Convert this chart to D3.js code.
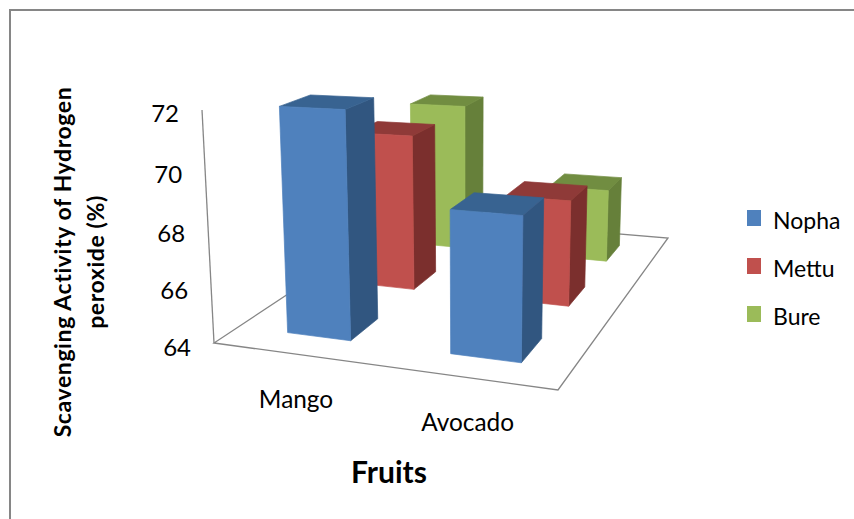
<!DOCTYPE html>
<html>
<head>
<meta charset="utf-8">
<script src="https://cdn.jsdelivr.net/npm/d3@7"></script>
<style>
  html, body { margin: 0; padding: 0; background: #fff; }
  svg { display: block; }
  text { font-family: Lato, "Open Sans", sans-serif; fill: #000; }
</style>
</head>
<body>
<div id="chart"></div>
<script>
const categories = ["Mango", "Avocado"];
const seriesNames = ["Nopha", "Mettu", "Bure"];
const nopha = [71.9, 68.85];
const mettu = [69.9, 67.9];
const bure = [70, 66.9];
const tickValues = [64, 66, 68, 70, 72];

const seriesValues = [nopha, mettu, bure];
const faceColors = [
  { front: "#4f81bd", side: "#315680", top: "#386391" },
  { front: "#c0504d", side: "#7b2f2d", top: "#8f3a38" },
  { front: "#9bbb59", side: "#66803a", top: "#718d41" }
];

const width = 854, height = 519;

const svg = d3.select("#chart").append("svg")
  .attr("width", width)
  .attr("height", height);

// chart border runs off the right and bottom of the crop
svg.append("rect")
  .attr("x", 10).attr("y", 10)
  .attr("width", 860).attr("height", 520)
  .attr("fill", "#fff")
  .attr("stroke", "#868686")
  .attr("stroke-width", 2);

// floor corners on screen, used to build the perspective
const floor = { fl: [214, 343], fr: [558, 390], br: [668, 238], bl: [406, 216] };
const vanish = [469, 5300];
const lift = -0.0449;

function floorMatrix(q) {
  const dx1 = q.fr[0] - q.br[0], dx2 = q.bl[0] - q.br[0];
  const dy1 = q.fr[1] - q.br[1], dy2 = q.bl[1] - q.br[1];
  const sx = q.fl[0] - q.fr[0] + q.br[0] - q.bl[0];
  const sy = q.fl[1] - q.fr[1] + q.br[1] - q.bl[1];
  const det = dx1 * dy2 - dx2 * dy1;
  const g = (sx * dy2 - dx2 * sy) / det;
  const h = (dx1 * sy - sx * dy1) / det;
  return {
    a: q.fr[0] - q.fl[0] + g * q.fr[0], b: q.bl[0] - q.fl[0] + h * q.bl[0], c: q.fl[0],
    d: q.fr[1] - q.fl[1] + g * q.fr[1], e: q.bl[1] - q.fl[1] + h * q.bl[1], f: q.fl[1],
    g: g, h: h
  };
}
const m = floorMatrix(floor);

// u: along categories, v: into the page, t: up the value axis
function project(u, v, t) {
  const q = lift * t;
  const w = m.g * u + m.h * v + 1 + q;
  return [
    (m.a * u + m.b * v + m.c + q * vanish[0]) / w,
    (m.d * u + m.e * v + m.f + q * vanish[1]) / w
  ];
}

const yScale = d3.scaleLinear().domain([64, 72]).range([0, 1]);
const uBand = d3.scaleBand().domain(categories).range([0.01, 1.01]).paddingInner(0.6).paddingOuter(0.3);
const uAxis = d3.scaleBand().domain(categories).range([0, 1]);
const vBand = d3.scaleBand().domain(seriesNames).range([0, 1]).paddingInner(0.6).paddingOuter(0.3);

const lineColor = "#868686";
const toPath = pts => "M" + pts.map(p => p[0].toFixed(2) + "," + p[1].toFixed(2)).join("L");

const plot = svg.append("g");

plot.append("path")
  .attr("d", toPath([[0, 0], [1, 0], [1, 1], [0, 1]].map(c => project(c[0], c[1], 0))) + "Z")
  .attr("fill", "none")
  .attr("stroke", lineColor)
  .attr("stroke-width", 1.3);

plot.append("path")
  .attr("d", toPath([project(0, 0, 0), project(0, 0, 1)]))
  .attr("fill", "none")
  .attr("stroke", lineColor)
  .attr("stroke-width", 1.3);

// bars, back row first so the front row covers it
d3.range(seriesNames.length - 1, -1, -1).forEach(s => {
  categories.forEach((cat, c) => {
    const u0 = uBand(cat), u1 = u0 + uBand.bandwidth();
    const v0 = vBand(seriesNames[s]), v1 = v0 + vBand.bandwidth();
    const t = yScale(seriesValues[s][c]);
    const col = faceColors[s];
    const bar = plot.append("g").attr("stroke-width", 0.7).attr("stroke-linejoin", "round");

    // thin same-colour stroke closes the antialiasing seam between faces
    bar.append("path")
      .attr("d", toPath([project(u1, v0, 0), project(u1, v1, 0), project(u1, v1, t), project(u1, v0, t)]) + "Z")
      .attr("fill", col.side)
      .attr("stroke", col.side);
    bar.append("path")
      .attr("d", toPath([project(u0, v0, t), project(u1, v0, t), project(u1, v1, t), project(u0, v1, t)]) + "Z")
      .attr("fill", col.top)
      .attr("stroke", col.top);
    bar.append("path")
      .attr("d", toPath([project(u0, v0, 0), project(u1, v0, 0), project(u1, v0, t), project(u0, v0, t)]) + "Z")
      .attr("fill", col.front)
      .attr("stroke", col.front);
  });
});

// value axis labels
svg.append("g").selectAll("text")
  .data(tickValues)
  .join("text")
  .attr("x", d => project(0, 0, yScale(d))[0] - 23)
  .attr("y", d => project(0, 0, yScale(d))[1] + 3)
  .attr("text-anchor", "end")
  .attr("dominant-baseline", "central")
  .attr("font-size", 24)
  .text(d => d);

// category labels
svg.append("g").selectAll("text")
  .data(categories)
  .join("text")
  .attr("x", d => project(uAxis(d) + uAxis.bandwidth() / 2, 0, 0)[0] + 3.5)
  .attr("y", d => project(uAxis(d) + uAxis.bandwidth() / 2, 0, 0)[1] + 44.5)
  .attr("text-anchor", "middle")
  .attr("dominant-baseline", "central")
  .attr("font-size", 24.4)
  .text(d => d);

svg.append("text")
  .attr("x", 389).attr("y", 471)
  .attr("text-anchor", "middle")
  .attr("dominant-baseline", "central")
  .attr("font-size", 30)
  .attr("font-weight", 700)
  .text("Fruits");

const yTitle = svg.append("g")
  .attr("font-size", 23)
  .attr("font-weight", 700)
  .attr("letter-spacing", 0.6)
  .attr("text-anchor", "middle");
yTitle.append("text")
  .attr("transform", "translate(62,262) rotate(-90)")
  .attr("dominant-baseline", "central")
  .text("Scavenging Activity of Hydrogen");
yTitle.append("text")
  .attr("transform", "translate(95,262) rotate(-90)")
  .attr("dominant-baseline", "central")
  .text("peroxide (%)");

// legend
const legendY = d3.scalePoint().domain(seriesNames).range([218, 314]);
const legend = svg.append("g").selectAll("g")
  .data(seriesNames)
  .join("g")
  .attr("transform", d => `translate(747,${legendY(d)})`);
legend.append("rect")
  .attr("x", 0).attr("y", -8)
  .attr("width", 14).attr("height", 16)
  .attr("fill", (d, i) => faceColors[i].front);
legend.append("text")
  .attr("x", 26).attr("y", 2)
  .attr("dominant-baseline", "central")
  .attr("font-size", 23)
  .text(d => d);
</script>
</body>
</html>
